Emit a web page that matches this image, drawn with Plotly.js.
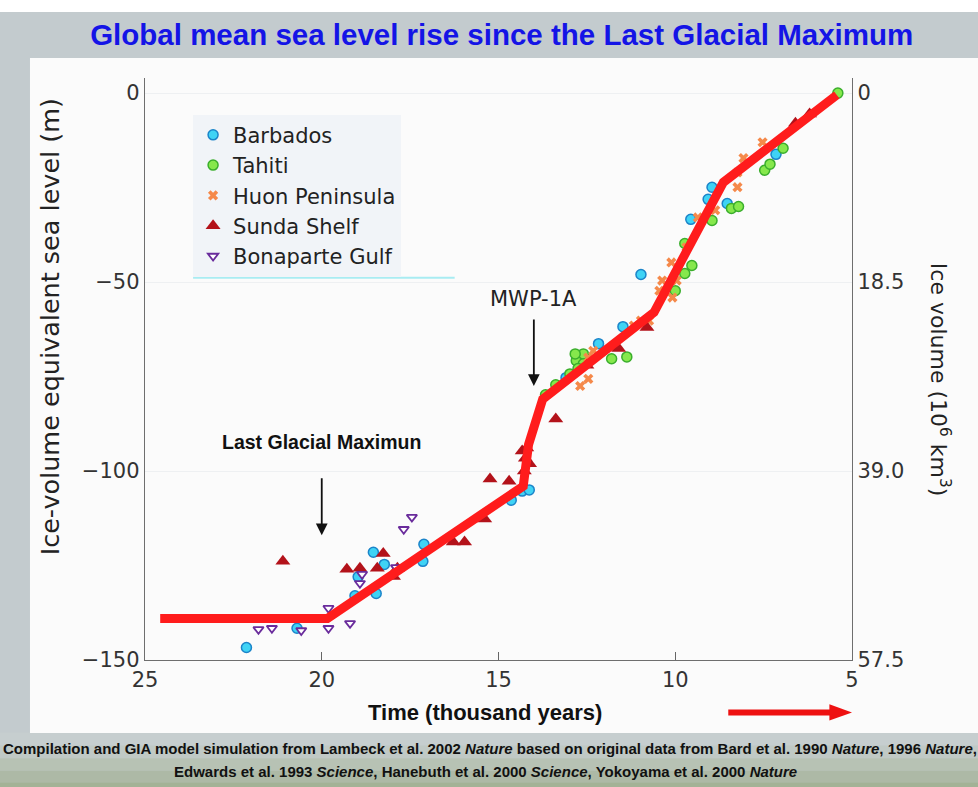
<!DOCTYPE html>
<html>
<head>
<meta charset="utf-8">
<script src="https://cdn.plot.ly/plotly-3.0.1.min.js"></script>
<style>html,body{margin:0;padding:0;background:#c3cbce;}#chart{width:978px;height:787px;}</style>
</head>
<body>
<div id="chart"></div>
<script>
// ---- data (time in thousand years BP, sea level in m) ----
const barbadosT = [22.13, 20.7, 18.54, 18.23, 18.97, 19.06, 18.46, 17.11, 17.14, 14.64, 14.33, 14.13, 10.97, 11.48, 12.17, 13.09, 9.56, 9.07, 8.96, 8.53, 7.15];
const barbadosS = [-146.7, -141.6, -121.5, -124.7, -128, -133, -132.4, -119.4, -123.9, -107.7, -105.3, -105, -48, -61.8, -66.3, -75.3, -33.4, -28.1, -24.9, -29.2, -16.2];

const tahitiT = [13.67, 13.38, 12.98, 12.8, 12.6, 12.83, 12.6, 12.75, 11.8, 11.37, 10.0, 9.53, 9.73, 9.73, 8.96, 8.41, 8.21, 7.47, 7.32, 6.95, 5.4];
const tahitiS = [-79.8, -77.2, -74.3, -70.8, -69, -69, -71.6, -72.9, -70.3, -69.8, -52.3, -45.6, -47.7, -39.8, -33.7, -30.5, -30, -20.4, -18.8, -14.6, 0];

const huonT = [7.53, 8.07, 8.24, 8.24, 8.87, 9.36, 9.68, 10.11, 10.37, 10.45, 10.08, 10.74, 12.32, 12.46, 10.97, 11.17, 12.46, 12.69, 9.96];
const huonS = [-13, -17.2, -21, -24.9, -31, -32.9, -40.8, -44.8, -49.6, -52.3, -54.1, -60.2, -68.2, -70, -60.2, -61.5, -75.6, -77.5, -49.6];

const sundaT = [21.1, 19.29, 18.92, 18.43, 18.26, 17.86, 17.97, 16.28, 15.96, 15.39, 15.24, 14.7, 14.33, 14.24, 14.12, 14.27, 13.38, 14.2, 10.8, 11.6, 12.5, 6.6, 6.2];
const sundaS = [-123.9, -126, -125.7, -125.7, -121.8, -125.7, -127.9, -118.8, -118.8, -112.7, -102.1, -102.7, -94.7, -96.6, -98.1, -100, -86.2, -93.9, -62, -67.6, -72, -8, -5.5];

const bonaparteT = [21.79, 21.41, 20.58, 19.81, 19.81, 19.2, 18.86, 18.92, 17.9, 17.68, 17.45];
const bonaparteS = [-141.9, -141.6, -142.2, -141.6, -136.3, -140.3, -127.3, -129.7, -125.5, -115.4, -112.2];

const modelT = [24.57, 19.84, 14.3, 14.15, 13.75, 10.6, 8.64, 5.43];
const modelS = [-139, -139, -104, -93, -81, -58, -23.6, -0.5];

const seaTicks = [0, -50, -100, -150];
const seaTickText = ['0', '\u221250', '\u2212100', '\u2212150'];
const iceTickText = ['0', '18.5', '39.0', '57.5'];
const timeTicks = [25, 20, 15, 10, 5];

const narrow = "'Liberation Sans Narrow', 'Arial Narrow', 'Liberation Sans', Arial, sans-serif";
const wide = "'DejaVu Sans', Verdana, sans-serif";

const traces = [
  {x: barbadosT, y: barbadosS, name: 'Barbados', type: 'scatter', mode: 'markers',
   marker: {symbol: 'circle', size: 10, color: '#3fd3f5', line: {color: '#1b84c9', width: 1.5}}},
  {x: tahitiT, y: tahitiS, name: 'Tahiti', type: 'scatter', mode: 'markers',
   marker: {symbol: 'circle', size: 10, color: '#86e84c', line: {color: '#3aae2c', width: 1.5}}},
  {x: huonT, y: huonS, name: 'Huon Peninsula', type: 'scatter', mode: 'markers',
   marker: {symbol: 'x', size: 9, color: '#f5894a', line: {width: 0}}},
  {x: sundaT, y: sundaS, name: 'Sunda Shelf', type: 'scatter', mode: 'markers',
   marker: {symbol: 'triangle-up', size: 13, color: '#b3121a', line: {width: 0}}},
  {x: bonaparteT, y: bonaparteS, name: 'Bonaparte Gulf', type: 'scatter', mode: 'markers',
   marker: {symbol: 'triangle-down', size: 9, color: '#ffffff', line: {color: '#6a2c9c', width: 1.8}}},
  // GIA model curve, on the right (ice volume) axis which shares the same range
  {x: modelT, y: modelS, yaxis: 'y2', type: 'scatter', mode: 'lines', showlegend: false, hoverinfo: 'skip',
   line: {color: '#ff1c1c', width: 9}}
];

const axisFont = {family: wide, size: 21, color: '#333'};

const band = (y0, y1, c) => ({type: 'rect', xref: 'paper', yref: 'paper', x0: -0.3, x1: 1.3, y0: y0, y1: y1,
  fillcolor: c, line: {width: 0}, layer: 'below'});

const layout = {
  width: 978, height: 787,
  paper_bgcolor: '#c3cbce',
  plot_bgcolor: 'rgba(0,0,0,0)',
  margin: {l: 145, r: 126, t: 78, b: 127},
  title: {
    text: '<b>Global mean sea level rise since the Last Glacial Maximum</b>',
    font: {family: narrow, size: 29.5, color: '#1414e6'},
    x: 0.513, xanchor: 'center', y: 0.956, yanchor: 'middle', yref: 'container'
  },
  xaxis: {
    range: [25, 5], autorange: false,
    tickmode: 'array', tickvals: timeTicks, ticktext: timeTicks.map(String),
    ticks: 'inside', ticklen: 8, tickcolor: '#666', tickwidth: 1,
    showline: true, linecolor: '#6e6e6e', linewidth: 1.3,
    showgrid: false, zeroline: false,
    tickfont: axisFont
  },
  yaxis: {
    range: [-150, 4], autorange: false,
    tickmode: 'array', tickvals: seaTicks, ticktext: seaTickText,
    ticks: '', showline: true, linecolor: '#6e6e6e', linewidth: 1.3,
    showgrid: true, gridcolor: '#eef0f2', gridwidth: 1, zeroline: false,
    tickfont: axisFont
  },
  yaxis2: {
    overlaying: 'y', side: 'right', anchor: 'x',
    range: [-150, 4], autorange: false,
    tickmode: 'array', tickvals: seaTicks, ticktext: iceTickText,
    ticks: '', showline: true, linecolor: '#6e6e6e', linewidth: 1.3,
    showgrid: false, zeroline: false,
    tickfont: axisFont
  },
  legend: {
    x: 0.068, xanchor: 'left', y: 0.937, yanchor: 'top',
    bgcolor: '#f1f4f8', borderwidth: 0,
    font: {family: wide, size: 21, color: '#222'},
    itemwidth: 30, tracegroupgap: 0
  },
  shapes: [
    // top white strip of the photo
    band(1.1134, 1.2, '#ffffff'),
    // footer tint bands (photo gradient)
    band(-0.147, -0.125, '#c6cecf'),
    band(-0.169, -0.147, '#c0c9c5'),
    band(-0.19, -0.169, '#b7c2b4'),
    band(-0.21, -0.19, '#adb9a6'),
    band(-0.25, -0.21, '#a3b296'),
    // white slide panel
    {type: 'rect', xref: 'paper', yref: 'paper', x0: -0.1627, x1: 1.2, y0: -0.1254, y1: 1.0344,
     fillcolor: '#fbfbfb', line: {width: 0}, layer: 'below'},
    // cyan rule under legend
    {type: 'line', xref: 'paper', yref: 'paper', x0: 0.068, x1: 0.438, y0: 0.657, y1: 0.657,
     line: {color: '#a8ecf2', width: 2}},
    // red time-direction arrow shaft
    {type: 'line', xref: 'paper', yref: 'paper', x0: 0.825, x1: 0.975, y0: -0.09, y1: -0.09,
     line: {color: '#ee1111', width: 6}},
    // arrow head
    {type: 'path', xref: 'paper', yref: 'paper',
     path: 'M 0.968 -0.076 L 1.0 -0.09 L 0.968 -0.104 Z',
     fillcolor: '#ee1111', line: {width: 0}}
  ],
  annotations: [
    {xref: 'paper', yref: 'paper', x: -0.134, y: 0.572, text: 'Ice-volume equivalent sea level (m)',
     textangle: -90, showarrow: false, font: {family: wide, size: 25.5, color: '#222'},
     xanchor: 'center', yanchor: 'middle'},
    {xref: 'paper', yref: 'paper', x: 1.124, y: 0.482, text: 'Ice volume (10<sup>6</sup> km<sup>3</sup>)',
     textangle: 90, showarrow: false, font: {family: wide, size: 22, color: '#222'},
     xanchor: 'center', yanchor: 'middle'},
    {xref: 'paper', yref: 'paper', x: 0.481, y: -0.091, text: '<b>Time (thousand years)</b>', showarrow: false,
     font: {family: narrow, size: 22, color: '#111'}, xanchor: 'center', yanchor: 'middle'},
    {x: 14.0, y: -54.5, xref: 'x', yref: 'y', text: 'MWP-1A', showarrow: false,
     font: {family: wide, size: 21, color: '#222'}, xanchor: 'center', yanchor: 'middle'},
    {x: 14.0, y: -77.5, ax: 14.0, ay: -59.5, xref: 'x', yref: 'y', axref: 'x', ayref: 'y', text: '',
     showarrow: true, arrowhead: 2, arrowsize: 1.3, arrowwidth: 1.8, arrowcolor: '#111'},
    {x: 20.0, y: -92.3, xref: 'x', yref: 'y', text: '<b>Last Glacial Maximun</b>', showarrow: false,
     font: {family: narrow, size: 19.5, color: '#111'}, xanchor: 'center', yanchor: 'middle'},
    {x: 20.0, y: -117, ax: 20.0, ay: -101.5, xref: 'x', yref: 'y', axref: 'x', ayref: 'y', text: '',
     showarrow: true, arrowhead: 2, arrowsize: 1.3, arrowwidth: 1.8, arrowcolor: '#111'},
    {xref: 'paper', yref: 'paper', x: 0.488, y: -0.152, xanchor: 'center', yanchor: 'middle', showarrow: false,
     text: '<b>Compilation and GIA model simulation from Lambeck et al. 2002 <i>Nature</i> based on original data from Bard et al. 1990 <i>Nature</i>, 1996 <i>Nature</i>,</b>',
     font: {family: narrow, size: 15, color: '#111'}},
    {xref: 'paper', yref: 'paper', x: 0.481, y: -0.192, xanchor: 'center', yanchor: 'middle', showarrow: false,
     text: '<b>Edwards et al. 1993 <i>Science</i>, Hanebuth et al. 2000 <i>Science</i>, Yokoyama et al. 2000 <i>Nature</i></b>',
     font: {family: narrow, size: 15, color: '#111'}}
  ]
};

Plotly.newPlot('chart', traces, layout, {staticPlot: true, displayModeBar: false});
</script>
</body>
</html>
